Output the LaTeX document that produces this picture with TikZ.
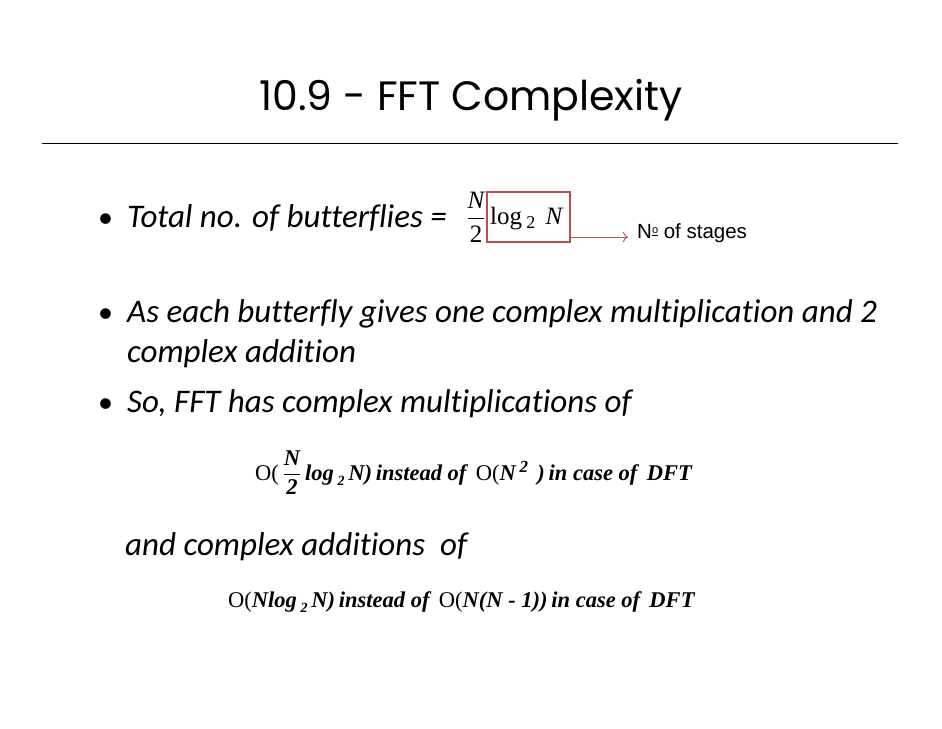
\documentclass[tikz,border=0pt]{standalone}
\usepackage{fontspec}
\usepackage{amsmath}
\usetikzlibrary{arrows.meta}
\setmainfont{Liberation Serif}
\newfontfamily\titlefont{Poppins}
\newfontfamily\bodyfont[Ligatures=NoCommon]{Carlito}
\newfontfamily\arial{Liberation Sans}
\definecolor{boxred}{RGB}{185,80,75}
\begin{document}
\begin{tikzpicture}[x=1pt,y=-1pt,
  bodytxt/.style={anchor=base west,inner sep=0pt,font=\bodyfont\itshape\fontsize{33}{36}\selectfont},
  formula/.style={anchor=base west,inner sep=0pt,font=\fontsize{22.5}{26}\selectfont\bfseries\itshape},
  bul/.style={anchor=base west,inner sep=0pt,font=\bodyfont\fontsize{30}{32}\selectfont}]
\useasboundingbox[fill=white] (0,0) rectangle (942,728);
\node[inner sep=0pt,anchor=base,font=\titlefont\fontsize{41}{46}\selectfont] (title) at (471,110) {10.9 - FFT Complexity};
\coordinate (l1) at (42,143); \coordinate (l2) at (898,143);
\draw[line width=1pt] (l1) -- (l2);
\node[bul] (b1) at (98,227) {•};
\node[bodytxt] (t1) at (127,227) {Total no. of butterflies =};
\node[inner sep=0pt,font=\fontsize{25}{28}\selectfont] (frac) at (476,217) {$\dfrac{\hbox{\itshape N}}{\hbox{2}}$};
\node[draw=boxred,line width=1.2pt,minimum width=83pt,minimum height=50pt,inner sep=0pt] (box) at (528.5,217) {};
\node[anchor=base west,inner sep=0pt,font=\fontsize{25}{28}\selectfont] (lg) at (490,224) {log\,\raisebox{-4pt}{\fontsize{18}{20}\selectfont 2}\, \textit{N}};
\coordinate (a1) at (570,237);
\node[anchor=west,inner sep=0pt,font=\arial\fontsize{20.5}{24}\selectfont] (stages) at (637,233) {N\raisebox{5pt}{\fontsize{11}{12}\selectfont\underline{o}} of stages};
\draw[boxred,line width=0.9pt,-{To[length=5pt,width=10pt]}] (a1) -- (628,237);
\node[bul] (b2) at (98,322) {•};
\node[bodytxt] (t2) at (127,322) {As each butterfly gives one complex multiplication and 2};
\node[bodytxt] (t2b) at (127,362) {complex addition};
\node[bul] (b3) at (98,412) {•};
\node[bodytxt] (t3) at (127,412) {So, FFT has complex multiplications of};
\node[formula] (f1) at (255,480) {\textup{\mdseries O(}\,$\dfrac{\hbox{\bfseries\itshape N}}{\hbox{\bfseries\itshape 2}}$\,log\,\raisebox{-5pt}{\fontsize{14}{16}\selectfont 2}\,N)\,instead of\, \textup{\mdseries O(}N\,\raisebox{8pt}{\fontsize{17}{18}\selectfont 2}\, )\,in case of\, DFT};
\node[bodytxt] (t4) at (125,555) {and complex additions \ of};
\node[formula] (f2) at (228,607) {\textup{\mdseries O(}Nlog\,\raisebox{-5pt}{\fontsize{14}{16}\selectfont 2}\,N)\,instead of\, \textup{\mdseries O(}N(N - 1))\,in case of\, DFT};
\end{tikzpicture}
\end{document}
